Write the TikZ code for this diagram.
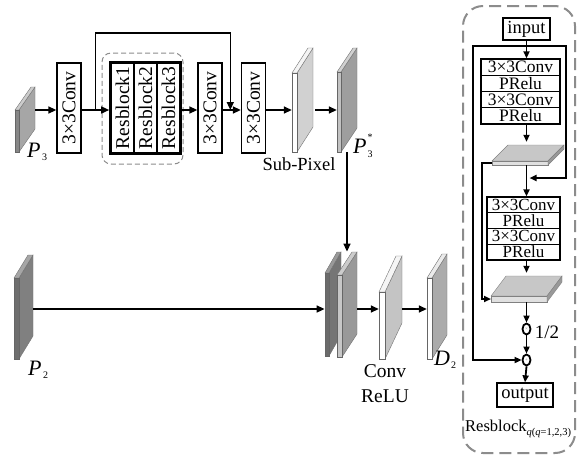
\documentclass[tikz,border=0pt]{standalone}
\usepackage{fontspec}
\setmainfont{Liberation Serif}
\usepackage{graphicx}
\usetikzlibrary{arrows.meta,fit,shapes.geometric,calc}

\newcommand\mainsz{\fontsize{19.5}{20}\selectfont}
\newcommand\panelsz{\fontsize{17.5}{17.5}\selectfont}

% feature-map slab colours: front (F), side (S), top (T)
\colorlet{pthreeF}{black!47}\colorlet{pthreeS}{black!35}\colorlet{pthreeT}{black!20}
\colorlet{subF}{white}\colorlet{subS}{black!18}\colorlet{subT}{black!4}
\colorlet{pstarF}{black!24}\colorlet{pstarS}{black!38}\colorlet{pstarT}{black!18}
\colorlet{ptwoF}{black!57}\colorlet{ptwoS}{black!50}\colorlet{ptwoT}{black!35}
\colorlet{catdF}{black!58}\colorlet{catdS}{black!54}\colorlet{catdT}{black!40}
\colorlet{catlF}{black!22}\colorlet{catlS}{black!40}\colorlet{catlT}{black!20}
\colorlet{crlF}{white}\colorlet{crlS}{black!23}\colorlet{crlT}{black!4}
\colorlet{dtwoF}{white}\colorlet{dtwoS}{black!33}\colorlet{dtwoT}{black!8}

% \slab{name}{x}{y}{w}{h}{dx}{dy}{colour prefix}: (x,y) is the top-left of the front face
\newcommand\slab[8]{%
  \filldraw[fill=#8S,draw=black!55,line width=0.4pt]
    (#2+#4,#3) -- ++(#6,-#7) -- ++(0,#5) -- ++(-#6,#7) -- cycle;
  \filldraw[fill=#8T,draw=black!55,line width=0.4pt]
    (#2,#3) -- ++(#4,0) -- ++(#6,-#7) -- ++(-#4,0) -- cycle;
  \filldraw[fill=#8F,draw=black!60,line width=0.4pt] (#2,#3) rectangle ++(#4,#5);
  \coordinate (#1-a) at (#2,#3-#7);
  \coordinate (#1-b) at (#2+#4+#6,#3+#5);
  \node[fit=(#1-a)(#1-b),inner sep=0pt] (#1) {};
}

% \plate{name}{x}{y}{w}{dx}{dy}{t}: (x,y) is the front-left corner of the top face
\newcommand\plate[7]{%
  \filldraw[fill=black!22,draw=black!50,line width=0.4pt]
    (#2,#3) -- ++(#4,0) -- ++(#5,-#6) -- ++(-#4,0) -- cycle;
  \filldraw[fill=black!12,draw=black!50,line width=0.4pt] (#2,#3) rectangle ++(#4,#7);
  \filldraw[fill=black!40,draw=black!50,line width=0.4pt]
    (#2+#4,#3) -- ++(#5,-#6) -- ++(0,#7) -- ++(-#5,#6) -- cycle;
  \coordinate (#1-a) at (#2,#3-#6);
  \coordinate (#1-b) at (#2+#4+#5,#3+#7);
  \coordinate (#1-fl) at (#2,#3+#7/2);
  \node[fit=(#1-a)(#1-b),inner sep=0pt] (#1) {};
}

\tikzset{
  arr/.style={line width=1.5pt,-{Triangle[length=8pt,width=7pt]}},
  parr/.style={line width=1.8pt,-{Triangle[length=7pt,width=6pt]}},
  convbox/.style={draw,line width=1.3pt,minimum width=24pt,minimum height=90pt,
    inner sep=0pt,font=\mainsz},
  rbcol/.style={draw,line width=1.2pt,minimum width=23pt,minimum height=90pt,
    inner sep=0pt,font=\mainsz},
  prow/.style={draw,line width=1.3pt,minimum height=16.25pt,inner sep=0pt,font=\panelsz},
  pbox/.style={draw,line width=1.3pt,inner sep=0pt,font=\fontsize{18.5}{18.5}\selectfont},
  opnode/.style={ellipse,draw,line width=1.8pt,fill=white,inner sep=0pt,
    minimum width=8pt,minimum height=11pt},
  lbl/.style={inner sep=0pt,font=\mainsz},
}

\begin{document}
\begin{tikzpicture}[x=1pt,y=-1pt]
\useasboundingbox[fill=white] (0,0) rectangle (585,459);

% ---------------- upper branch ----------------
\coordinate (row) at (0,110);
\slab{p3}{15}{110}{4}{42}{16}{23}{pthree}
\node[convbox] (conv1) at (69,108) {\rotatebox{90}{3×3Conv}};

\node[draw=black!45,dashed,dash pattern=on 5pt off 3pt,line width=1pt,
  rounded corners=9pt,minimum width=81pt,minimum height=111pt] (grp) at (142.5,108.5) {};
\node[rbcol] (rb1) at (122.5,108) {\rotatebox{90}{Resblock1}};
\node[rbcol] (rb2) at (145.5,108) {\rotatebox{90}{Resblock2}};
\node[rbcol] (rb3) at (168.5,108) {\rotatebox{90}{Resblock3}};
\node[fit=(rb1)(rb3),inner sep=0pt,draw,line width=2.4pt] (rbs) {};

\node[convbox] (conv2) at (210,108) {\rotatebox{90}{3×3Conv}};
\node[convbox] (conv3) at (253.5,108) {\rotatebox{90}{3×3Conv}};
\slab{sub}{292}{73}{5}{79}{16}{25}{sub}
\slab{p3s}{337}{72}{4}{80}{16}{24}{pstar}

\draw[arr] (p3.east |- row) -- (conv1.west |- row);
\draw[arr] (conv1.east |- row) -- (rbs.west |- row);
\coordinate (skipsrc) at ($(conv1.east |- row)!0.5!(rbs.west |- row)$);
\coordinate (skipdst) at ($(conv2.east |- row)!0.42!(conv3.west |- row)$);
\coordinate (skiptop) at (0,33);
\draw[arr] (skipsrc) -- (skipsrc |- skiptop) -| (skipdst);
\draw[arr] (rbs.east |- row) -- (conv2.west |- row);
\draw[arr] (conv2.east |- row) -- (conv3.west |- row);
\draw[arr] (conv3.east |- row) -- (sub.west |- row);
\draw[arr] ([xshift=2pt]sub.east |- row) -- (p3s.west |- row);

\node[lbl,font=\fontsize{18.5}{18.5}\selectfont] (sublbl) at (299,164) {Sub-Pixel};
\node[lbl,anchor=base west] (p3lbl) at (27,157)
  {{\fontsize{22}{22}\selectfont\itshape P}\hspace{1.5pt}\raisebox{-3pt}{\fontsize{10}{10}\selectfont 3}};
\node[lbl,anchor=base west] (p3slbl) at (353,153)
  {{\fontsize{22}{22}\selectfont\itshape P}\hspace{1pt}\makebox[0pt][l]{\raisebox{-4pt}{\fontsize{10}{10}\selectfont 3}}\raisebox{13pt}{\fontsize{10}{10}\selectfont *}};

% ---------------- lower branch ----------------
\slab{p2}{14}{278}{5}{81}{14}{23}{ptwo}
\slab{catd}{325}{273}{4}{83}{12}{21}{catd}
\slab{catl}{337}{275}{5}{82}{15}{23}{catl}
\node[fit=(catd)(catl),inner sep=0pt] (cat) {};
\slab{crl}{379}{292}{6}{67}{17}{36}{crl}
\slab{d2}{427}{278}{5}{81}{15}{24}{dtwo}

\coordinate (lowrow) at (0,309);
\draw[arr] (p3s.south) -- (p3s.south |- cat.north);
\draw[arr] (p2.east |- lowrow) -- (cat.west |- lowrow);
\draw[arr] (cat.east |- lowrow) -- (crl.west |- lowrow);
\draw[arr] (crl.east |- lowrow) -- (d2.west |- lowrow);

\node[lbl,anchor=base west] (p2lbl) at (28,375)
  {{\fontsize{22}{22}\selectfont\itshape P}\hspace{1.5pt}\raisebox{-3pt}{\fontsize{10}{10}\selectfont 2}};
\node[lbl,anchor=base west] (d2lbl) at (434,365)
  {{\fontsize{22}{22}\selectfont\itshape D}\hspace{1pt}\raisebox{-3pt}{\fontsize{10}{10}\selectfont 2}};
\node[lbl] (convlbl) at (385,371) {Conv};
\node[lbl] (relulbl) at (385,396) {ReLU};

% ---------------- residual block detail ----------------
\node[draw=black!45,line width=2pt,dash pattern=on 12pt off 6pt,rounded corners=20pt,
  minimum width=112pt,minimum height=447pt] (panel) at (519,229.5) {};

\node[pbox,minimum width=47pt,minimum height=22pt] (inp) at (526.5,29) {input};
\node[prow,minimum width=79pt] (b1a) at (520.5,67.1) {3×3Conv};
\node[prow,minimum width=79pt] (b1b) at (520.5,83.4) {PRelu};
\node[prow,minimum width=79pt] (b1c) at (520.5,99.6) {3×3Conv};
\node[prow,minimum width=79pt] (b1d) at (520.5,115.9) {PRelu};
\plate{pl1}{492}{161}{56}{16}{16}{4}
\node[prow,minimum width=73pt,minimum height=15.75pt,font=\fontsize{17}{17}\selectfont] (b2a) at (523.5,204.9) {3×3Conv};
\node[prow,minimum width=73pt,minimum height=15.75pt,font=\fontsize{17}{17}\selectfont] (b2b) at (523.5,220.6) {PRelu};
\node[prow,minimum width=73pt,minimum height=15.75pt,font=\fontsize{17}{17}\selectfont] (b2c) at (523.5,236.4) {3×3Conv};
\node[prow,minimum width=73pt,minimum height=15.75pt,font=\fontsize{17}{17}\selectfont] (b2d) at (523.5,252.1) {PRelu};
\plate{pl2}{491}{296}{56}{15}{20}{6}
\node[opnode] (half) at (526.5,329) {\fontsize{5}{5}\selectfont\color{black!45}×};
\node[opnode] (plus) at (526.5,360) {\fontsize{5}{5}\selectfont\color{black!45}+};
\node[pbox,minimum width=56pt,minimum height=24pt] (outp) at (525,395) {output};
\node[lbl,font=\fontsize{19}{19}\selectfont] (halflbl) at (547,332) {1/2};
\node[lbl,anchor=base west] (rblbl) at (465,431)
  {{\fontsize{16.5}{16.5}\selectfont Resblock}\raisebox{-4pt}{\fontsize{10.5}{10.5}\selectfont\itshape q\upshape(\itshape q\upshape=1,2,3)}};

\coordinate (split) at (inp.south |- 0,46);
\coordinate (lx) at (473,0);
\coordinate (rx) at (566,0);
\coordinate (ix) at (482,0);
\coordinate (merge) at (529.5,178);
\draw[parr] (inp.south) -- (inp.south |- b1a.north);
\draw[parr] (split) -- (split -| lx) |- (plus.west);
\draw[parr] (split) -- (split -| rx) |- (merge);
\draw[parr] (inp.south |- b1d.south) -- ([yshift=3pt]inp.south |- pl1.north);
\draw[parr] (inp.south |- pl1.south) -- (inp.south |- b2a.north);
\draw[parr] (pl1-fl) -- (pl1-fl -| ix) |- (pl2-fl);
\draw[parr] (inp.south |- b2d.south) -- ([yshift=3pt]inp.south |- pl2.north);
\draw[parr] (inp.south |- pl2.south) -- (half.north);
\draw[parr] (half.south) -- (plus.north);
\draw[parr] (plus.south) -- (outp.north);
\end{tikzpicture}
\end{document}
